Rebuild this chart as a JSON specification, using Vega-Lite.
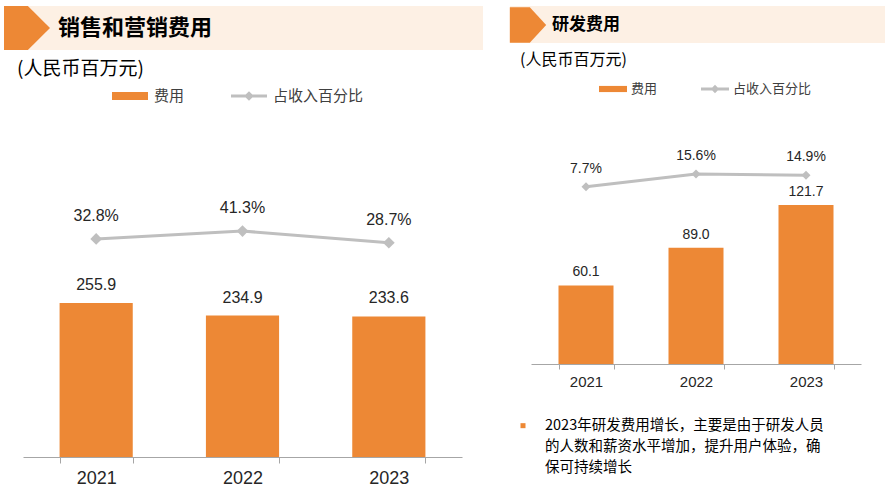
{
  "$schema": "https://vega.github.io/schema/vega-lite/v6.json",
  "background": "white",
  "padding": {"left": 4, "top": 6, "right": 0, "bottom": 0},
  "spacing": 27,
  "resolve": {"scale": {"color": "independent"}},
  "config": {
    "view": {"stroke": null},
    "font": "Liberation Sans",
    "axis": {"grid": false}
  },
  "hconcat": [
    {
      "bounds": "flush",
      "spacing": 10,
      "resolve": {"scale": {"color": "independent"}},
      "vconcat": [
        {
          "width": 479,
          "height": 44,
          "view": {"fill": "#FDF0E4", "stroke": null},
          "data": {"values": [{"section": "销售和营销费用"}]},
          "title": {"text": "(人民币百万元)", "orient": "bottom", "anchor": "start", "frame": "group", "offset": 19, "baseline": "middle", "dx": 13, "fontSize": 19, "font": "Noto Sans CJK SC", "fontWeight": "normal", "color": "#000000"},
          "mark": {"type": "point", "opacity": 0, "filled": true},
          "encoding": {
            "color": {
              "field": "section", "type": "nominal",
              "scale": {"range": ["#ED8835"]},
              "legend": {
                "orient": "none", "legendX": 1, "legendY": 0, "title": null, "padding": 0,
                "symbolType": "M-1.045,-1L0.04,-1L1.045,0L0.04,1L-1.045,1Z",
                "symbolSize": 1936, "symbolStrokeWidth": 0, "symbolOpacity": 1,
                "labelFont": "Noto Sans CJK SC", "labelFontSize": 22, "labelFontWeight": "bold",
                "labelColor": "#000000", "labelOffset": 9, "labelLimit": 400,
                "encode": {"symbols": {"update": {"opacity": {"value": 1}, "fill": {"value": "#ED8835"}, "strokeWidth": {"value": 0}}}}
              }
            }
          }
        },
        {
          "width": 479,
          "height": 397,
          "data": {"values": [
            {"year": "2021", "amount": 255.9, "pct": 0.328},
            {"year": "2022", "amount": 234.9, "pct": 0.413},
            {"year": "2023", "amount": 233.6, "pct": 0.287}
          ]},
          "encoding": {
            "x": {
              "field": "year", "type": "nominal",
              "scale": {"range": [19, 458], "paddingInner": 0.5, "paddingOuter": 0.25},
              "axis": {"title": null, "labelAngle": 0, "labelFontSize": 18, "labelColor": "#262626", "labelFont": "Liberation Sans", "tickBand": "extent", "tickSize": 6, "tickColor": "#A6A6A6", "domainColor": "#A6A6A6", "labelPadding": 6}
            }
          },
          "layer": [
            {
              "mark": {"type": "bar"},
              "encoding": {
                "y": {"field": "amount", "type": "quantitative", "scale": {"domain": [0, 659.5], "nice": false}, "axis": null},
                "color": {
                  "datum": "费用", "type": "nominal",
                  "scale": {"domain": ["费用", "占收入百分比"], "range": ["#ED8835", "#BFBFBF"]},
                  "legend": {
                    "orient": "none", "legendX": 108, "legendY": 18, "title": null, "direction": "horizontal", "padding": 0,
                    "symbolSize": 1296, "symbolStrokeWidth": 0,
                    "labelFont": "Noto Sans CJK SC", "labelFontSize": 15, "labelColor": "#404040", "labelOffset": 6, "columnPadding": 46,
                    "encode": {"symbols": {"update": {
                      "shape": {"signal": "datum.value == '费用' ? 'M-1,-0.22H1V0.22H-1Z' : 'M-1,-0.08H1V0.08H-1Z M0,-0.27L0.27,0L0,0.27L-0.27,0Z'"},
                      "fill": {"signal": "datum.value == '费用' ? '#ED8835' : '#BFBFBF'"},
                      "stroke": {"value": "transparent"},
                      "strokeWidth": {"value": 0},
                      "opacity": {"value": 1}
                    }}}
                  }
                }
              }
            },
            {
              "mark": {"type": "text", "dy": -18, "fontSize": 16, "color": "#262626", "font": "Liberation Sans"},
              "encoding": {
                "y": {"field": "amount", "type": "quantitative", "scale": {"domain": [0, 659.5], "nice": false}, "axis": null},
                "text": {"field": "amount", "type": "quantitative", "format": ".1f"}
              }
            },
            {
              "mark": {"type": "line", "strokeWidth": 3, "point": {"shape": "diamond", "size": 137, "filled": true}},
              "encoding": {
                "y": {"field": "pct", "type": "quantitative", "scale": {"domain": [-2.019, 2.254], "nice": false, "zero": false}, "axis": null},
                "color": {"datum": "占收入百分比", "type": "nominal"}
              }
            },
            {
              "mark": {"type": "text", "dy": -23, "fontSize": 16, "color": "#262626", "font": "Liberation Sans"},
              "encoding": {
                "y": {"field": "pct", "type": "quantitative", "scale": {"domain": [-2.019, 2.254], "nice": false, "zero": false}, "axis": null},
                "text": {"field": "pct", "type": "quantitative", "format": ".1%"}
              }
            }
          ],
          "resolve": {"scale": {"y": "independent"}}
        }
      ]
    },
    {
      "bounds": "flush",
      "spacing": 51,
      "resolve": {"scale": {"color": "independent"}},
      "vconcat": [
        {
          "width": 375,
          "height": 37,
          "view": {"fill": "#FDF0E4", "stroke": null},
          "data": {"values": [{"section": "研发费用"}]},
          "title": {"text": "(人民币百万元)", "orient": "bottom", "anchor": "start", "frame": "group", "offset": 17, "baseline": "middle", "dx": 10, "fontSize": 16, "font": "Noto Sans CJK SC", "fontWeight": "normal", "color": "#000000"},
          "mark": {"type": "point", "opacity": 0, "filled": true},
          "encoding": {
            "color": {
              "field": "section", "type": "nominal",
              "scale": {"range": ["#ED8835"]},
              "legend": {
                "orient": "none", "legendX": 0, "legendY": 1, "title": null, "padding": 0,
                "symbolType": "M-1.01,-0.98L0.1,-0.98L1.01,0L0.1,0.98L-1.01,0.98Z",
                "symbolSize": 1296, "symbolStrokeWidth": 0, "symbolOpacity": 1,
                "labelFont": "Noto Sans CJK SC", "labelFontSize": 17, "labelFontWeight": "bold",
                "labelColor": "#000000", "labelOffset": 6, "labelLimit": 400,
                "encode": {"symbols": {"update": {"opacity": {"value": 1}, "fill": {"value": "#ED8835"}, "strokeWidth": {"value": 0}}}}
              }
            }
          }
        },
        {
          "width": 375,
          "height": 270,
          "data": {"values": [
            {"year": "2021", "amount": 60.1, "pct": 0.077},
            {"year": "2022", "amount": 89.0, "pct": 0.156},
            {"year": "2023", "amount": 121.7, "pct": 0.149}
          ]},
          "encoding": {
            "x": {
              "field": "year", "type": "nominal",
              "scale": {"range": [21, 351], "paddingInner": 0.5, "paddingOuter": 0.25},
              "axis": {"title": null, "labelAngle": 0, "labelFontSize": 15, "labelColor": "#262626", "labelFont": "Liberation Sans", "tickBand": "extent", "tickSize": 5, "tickColor": "#A6A6A6", "domainColor": "#A6A6A6", "labelPadding": 5}
            }
          },
          "layer": [
            {
              "mark": {"type": "bar"},
              "encoding": {
                "y": {"field": "amount", "type": "quantitative", "scale": {"domain": [0, 206.6], "nice": false}, "axis": null},
                "color": {
                  "datum": "费用", "type": "nominal",
                  "scale": {"domain": ["费用", "占收入百分比"], "range": ["#ED8835", "#BFBFBF"]},
                  "legend": {
                    "orient": "none", "legendX": 89, "legendY": -19, "title": null, "direction": "horizontal", "padding": 0,
                    "symbolSize": 784, "symbolStrokeWidth": 0,
                    "labelFont": "Noto Sans CJK SC", "labelFontSize": 13, "labelColor": "#404040", "labelOffset": 4, "columnPadding": 43,
                    "encode": {"symbols": {"update": {
                      "shape": {"signal": "datum.value == '费用' ? 'M-1,-0.22H1V0.22H-1Z' : 'M-1,-0.1H1V0.1H-1Z M0,-0.3L0.3,0L0,0.3L-0.3,0Z'"},
                      "fill": {"signal": "datum.value == '费用' ? '#ED8835' : '#BFBFBF'"},
                      "stroke": {"value": "transparent"},
                      "strokeWidth": {"value": 0},
                      "opacity": {"value": 1}
                    }}}
                  }
                }
              }
            },
            {
              "mark": {"type": "text", "dy": -13, "fontSize": 14, "color": "#262626", "font": "Liberation Sans"},
              "encoding": {
                "y": {"field": "amount", "type": "quantitative", "scale": {"domain": [0, 206.6], "nice": false}, "axis": null},
                "text": {"field": "amount", "type": "quantitative", "format": ".1f"}
              }
            },
            {
              "mark": {"type": "line", "strokeWidth": 3, "point": {"shape": "diamond", "size": 81, "filled": true}},
              "encoding": {
                "y": {"field": "pct", "type": "quantitative", "scale": {"domain": [-1.0255, 0.6535], "nice": false, "zero": false}, "axis": null},
                "color": {"datum": "占收入百分比", "type": "nominal"}
              }
            },
            {
              "mark": {"type": "text", "dy": -18, "fontSize": 14, "color": "#262626", "font": "Liberation Sans"},
              "encoding": {
                "y": {"field": "pct", "type": "quantitative", "scale": {"domain": [-1.0255, 0.6535], "nice": false, "zero": false}, "axis": null},
                "text": {"field": "pct", "type": "quantitative", "format": ".1%"}
              }
            }
          ],
          "resolve": {"scale": {"y": "independent"}}
        },
        {
          "width": 70,
          "height": 64,
          "data": {"values": [
            {"line": 1, "text": "2023年研发费用增长，主要是由于研发人员"},
            {"line": 2, "text": "的人数和薪资水平增加，提升用户体验，确"},
            {"line": 3, "text": "保可持续增长"}
          ]},
          "encoding": {"y": {"field": "line", "type": "ordinal", "axis": null}},
          "layer": [
            {
              "mark": {"type": "text", "align": "left", "baseline": "middle", "font": "Noto Sans CJK SC", "fontSize": 14.5, "color": "#000000"},
              "encoding": {"text": {"field": "text", "type": "nominal"}}
            },
            {
              "transform": [{"filter": "datum.line == 1"}],
              "mark": {"type": "point", "shape": "square", "size": 25, "filled": true, "color": "#ED8835", "opacity": 1, "xOffset": -22}
            }
          ]
        }
      ]
    }
  ]
}
